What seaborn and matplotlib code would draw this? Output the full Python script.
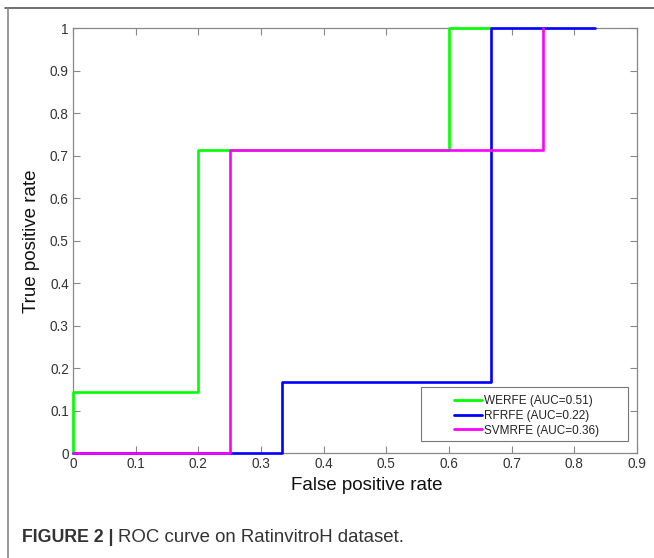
import matplotlib
matplotlib.use("Agg")
import matplotlib.pyplot as plt
import seaborn as sns
import pandas as pd
from matplotlib.lines import Line2D
from matplotlib.patches import Rectangle

# ROC curve vertices (false positive rate, true positive rate)
werfe_fpr = [0, 0, 0.2, 0.2, 0.6, 0.6, 0.667]
werfe_tpr = [0, 0.143, 0.143, 0.714, 0.714, 1, 1]
rfrfe_fpr = [0, 0.333, 0.333, 0.667, 0.667, 0.833]
rfrfe_tpr = [0, 0, 0.167, 0.167, 1, 1]
svmrfe_fpr = [0, 0.25, 0.25, 0.75, 0.75]
svmrfe_tpr = [0, 0, 0.714, 0.714, 1]

labels = ["WERFE (AUC=0.51)", "RFRFE (AUC=0.22)", "SVMRFE (AUC=0.36)"]
colors = ["#00ff00", "#0000ff", "#ff00ff"]
x_ticks = [0, 0.1, 0.2, 0.3, 0.4, 0.5, 0.6, 0.7, 0.8, 0.9]
y_ticks = [0, 0.1, 0.2, 0.3, 0.4, 0.5, 0.6, 0.7, 0.8, 0.9, 1]

sns.set_style("ticks")
plt.rcParams["font.family"] = ["Liberation Sans", "DejaVu Sans"]

fig = plt.figure(figsize=(6.54, 5.58), dpi=100)
ax = fig.add_axes([0.1116, 0.188, 0.8624, 0.761])

curves = [(werfe_fpr, werfe_tpr), (rfrfe_fpr, rfrfe_tpr), (svmrfe_fpr, svmrfe_tpr)]
for (fpr, tpr), lab, col in zip(curves, labels, colors):
    d = pd.DataFrame({"fpr": fpr, "tpr": tpr})
    sns.lineplot(data=d, x="fpr", y="tpr", sort=False, estimator=None,
                 color=col, linewidth=1.9, ax=ax, legend=False)
for ln in ax.get_lines():
    ln.set_clip_on(False)
    ln.set_zorder(3)

ax.set_xlim(0, 0.9)
ax.set_ylim(0, 1)
ax.set_xticks(x_ticks)
ax.set_xticklabels([f"{v:g}" for v in x_ticks])
ax.set_yticks(y_ticks)
ax.set_yticklabels([f"{v:g}" for v in y_ticks])
ax.tick_params(direction="in", top=True, right=True, length=5, width=0.8,
               color="#888888", labelsize=9.8, labelcolor="#333333", pad=3)
for s in ax.spines.values():
    s.set_visible(True)
    s.set_color("#888888")
    s.set_linewidth(0.9)
    s.set_zorder(2)

ax.set_xlabel("False positive rate", fontsize=13.5, color="#111111", labelpad=4)
ax.set_ylabel("True positive rate", fontsize=13.5, color="#111111", labelpad=7)
ax.xaxis.label.set_x(0.52)
ax.yaxis.label.set_y(0.5)

# legend: MATLAB style box with wide margins
ax.add_patch(Rectangle((0.617, 0.028), 0.367, 0.127, transform=ax.transAxes,
                       facecolor="white", edgecolor="#777777", linewidth=0.8,
                       zorder=4, clip_on=False))
handles = [Line2D([0], [0], color=c, linewidth=2.0) for c in colors]
leg = ax.legend(handles, labels, loc="center left", bbox_to_anchor=(0.6755, 0.0875),
                borderaxespad=0, borderpad=0, fontsize=8.5, frameon=False,
                handlelength=2.4, handletextpad=0.12, labelspacing=0.22)
leg.set_zorder(5)
for t in leg.get_texts():
    t.set_color("#222222")

# figure frame (top and left rules)
fig.add_artist(Line2D([0.008, 1.0], [1 - 8 / 558, 1 - 8 / 558], transform=fig.transFigure,
                      color="#555555", linewidth=1.2))
fig.add_artist(Line2D([8 / 654, 8 / 654], [0, 1 - 8 / 558], transform=fig.transFigure,
                      color="#888888", linewidth=1.2))

# caption
cap_y = 1 - 538 / 558
t1 = fig.text(22 / 654, cap_y, "FIGURE 2 |", fontsize=12.8, fontweight="bold",
              color="#333333", va="center", ha="left")
fig.canvas.draw()
bb = t1.get_window_extent(renderer=fig.canvas.get_renderer())
x2 = bb.x1 / fig.bbox.width + 4 / 654
fig.text(x2, cap_y, "ROC curve on RatinvitroH dataset.", fontsize=13.4,
         color="#333333", va="center", ha="left")

fig.savefig("out.png", dpi=100)
